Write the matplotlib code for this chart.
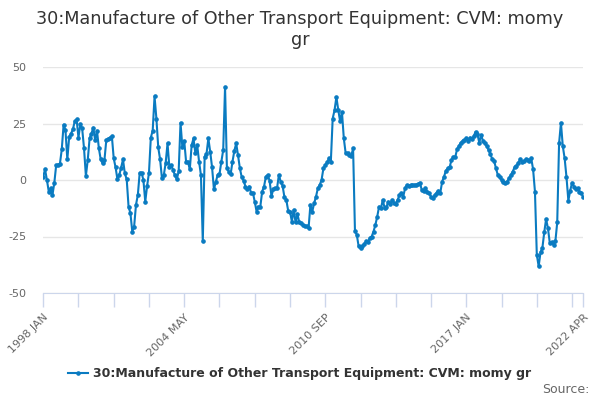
import matplotlib
matplotlib.use("Agg")
import matplotlib.pyplot as plt

# ==============================
# Data (monthly, 1998 JAN .. 2022 APR)
# ==============================
TITLE = "30:Manufacture of Other Transport Equipment: CVM: momy\ngr"
SERIES_NAME = "30:Manufacture of Other Transport Equipment: CVM: momy gr"

months = ["JAN", "FEB", "MAR", "APR", "MAY", "JUN",
          "JUL", "AUG", "SEP", "OCT", "NOV", "DEC"]
periods = [f"{y} {m}" for y in range(1998, 2023) for m in months][:292]

values = [
    1.5, 4.7, 0.0, -5.1, -3.7, -6.6, -1.2, 6.6, 6.8, 7.1, 13.5, 24.5,        # 1998
    22.0, 9.1, 19.1, 20.5, 22.4, 26.0, 26.8, 18.8, 24.6, 22.8, 14.0, 1.8,    # 1999
    8.8, 18.4, 20.5, 23.2, 17.6, 21.8, 14.0, 9.1, 7.4, 8.8, 17.6, 18.2,      # 2000
    18.8, 19.4, 9.6, 5.6, 0.3, 2.2, 5.5, 9.1, 2.9, 0.3, -11.8, -14.7,        # 2001
    -22.8, -20.6, -11.0, -6.6, 3.2, 3.2, 0.0, -9.6, -2.6, 3.2, 18.8, 21.8,   # 2002
    37.0, 27.2, 14.4, 9.1, 0.7, 2.2, 7.6, 16.2, 5.6, 6.6, 4.4, 2.0,          # 2003
    0.3, 3.8, 25.3, 14.4, 17.3, 8.1, 8.1, 4.7, 15.4, 18.4, 11.8, 15.4,       # 2004
    8.1, 2.2, -27.2, 10.3, 11.5, 18.4, 12.5, 5.6, -4.1, -1.0, 2.2, 2.6,      # 2005
    8.1, 13.2, 41.2, 5.1, 3.7, 2.5, 8.1, 12.9, 16.2, 10.9, 5.1, 1.2,         # 2006
    -0.3, -2.9, -4.1, -2.9, -5.6, -5.6, -9.6, -14.0, -11.8, -11.8, -5.1, -2.9,  # 2007
    1.5, 2.2, -0.3, -7.1, -4.1, -3.7, -3.7, 2.2, -0.7, -2.6, -7.6, -8.8,     # 2008
    -13.5, -14.0, -18.4, -13.2, -18.8, -15.0, -18.8, -19.1, -19.9, -20.3, -20.5, -21.3,  # 2009
    -11.0, -14.0, -10.3, -7.4, -3.7, -2.2, 0.0, 5.1, 6.6, 7.8, 9.6, 8.1,     # 2010
    27.2, 30.9, 36.7, 31.0, 26.0, 30.1, 18.4, 11.8, 11.8, 11.0, 10.7, 14.0,  # 2011
    -22.4, -24.3, -29.4, -30.1, -29.4, -28.3, -27.2, -27.6, -25.7, -25.0, -22.8, -19.9,  # 2012
    -16.2, -11.8, -12.5, -8.8, -12.5, -11.8, -9.6, -10.6, -8.8, -10.3, -10.6, -8.8,      # 2013
    -6.6, -5.9, -7.4, -3.7, -2.2, -2.6, -2.4, -2.2, -2.2, -2.0, -1.8, -1.2,  # 2014
    -4.4, -4.7, -3.7, -5.1, -5.9, -7.4, -8.1, -6.6, -5.6, -4.7, -5.6, -0.7,  # 2015
    1.5, 4.1, 5.1, 5.6, 8.8, 10.3, 10.0, 13.5, 15.0, 16.5, 17.3, 17.6,       # 2016
    18.4, 17.3, 18.8, 18.0, 19.4, 21.3, 20.3, 16.5, 19.9, 17.3, 16.2, 15.0,  # 2017
    13.2, 11.5, 9.1, 8.5, 5.1, 2.2, 1.2, 0.0, -0.7, -1.2, -0.7, 0.7,         # 2018
    2.2, 3.7, 5.6, 6.2, 7.6, 9.1, 8.1, 8.5, 9.1, 8.8, 8.5, 9.6,              # 2019
    4.7, -5.1, -33.1, -38.2, -32.0, -30.1, -23.2, -17.3, -21.3, -27.9, -27.6, -28.7,  # 2020
    -27.2, -18.8, 16.2, 25.3, 15.0, 9.6, 1.2, -9.1, -4.7, -1.2, -2.9, -4.1,  # 2021
    -3.7, -5.1, -5.6, -7.6,                                                  # 2022
]

y_ticks = [-50, -25, 0, 25, 50]
tick_step = 19        # a tick every 19 months
label_every = 4       # label every 4th tick, plus the last period

# ==============================
# Plot
# ==============================
LINE_COLOR = "#0a7bc1"
AXIS_COLOR = "#ccd6eb"
GRID_COLOR = "#e6e6e6"
TEXT_COLOR = "#666666"

fig = plt.figure(figsize=(6, 4), dpi=100)
ax = fig.add_axes([0.072, 0.2675, 0.9, 0.565])

x = list(range(len(values)))
line, = ax.plot(x, values, color=LINE_COLOR, lw=1.5, marker="o", ms=2.3,
                label=SERIES_NAME, zorder=3)

ax.set_xlim(0, len(values) - 1)
ax.set_ylim(-50, 50)
ax.set_yticks(y_ticks)
ax.set_yticklabels([str(t) for t in y_ticks])
ax.yaxis.grid(True, color=GRID_COLOR, lw=1)
ax.set_axisbelow(True)

tick_pos = list(range(0, len(values), tick_step))
if tick_pos[-1] != len(values) - 1:
    tick_pos.append(len(values) - 1)
tick_lab = []
for k, p in enumerate(tick_pos):
    if k % label_every == 0 or p == len(values) - 1:
        tick_lab.append(periods[p])
    else:
        tick_lab.append("")
ax.set_xticks(tick_pos)
ax.set_xticklabels(tick_lab, rotation=45, ha="right", rotation_mode="anchor")

for side in ["top", "right", "left"]:
    ax.spines[side].set_visible(False)
ax.spines["bottom"].set_color(AXIS_COLOR)
ax.tick_params(axis="x", colors=AXIS_COLOR, length=10, width=1,
               labelcolor=TEXT_COLOR, labelsize=8, pad=4)
ax.tick_params(axis="y", length=0, labelcolor=TEXT_COLOR, labelsize=8, pad=12)

fig.text(0.5, 0.927, TITLE, ha="center", va="center", fontsize=12.7,
         color="#333333", linespacing=1.2)

leg = fig.legend(handles=[line], loc="center", bbox_to_anchor=(0.5, 0.065),
                 frameon=False, handlelength=1.6, handletextpad=0.4,
                 prop={"weight": "bold", "size": 9})
for t in leg.get_texts():
    t.set_color("#333333")

fig.text(0.983, 0.027, "Source:", ha="right", va="center", fontsize=9,
         color=TEXT_COLOR)

fig.savefig("out.png", dpi=100)
plt.close(fig)
